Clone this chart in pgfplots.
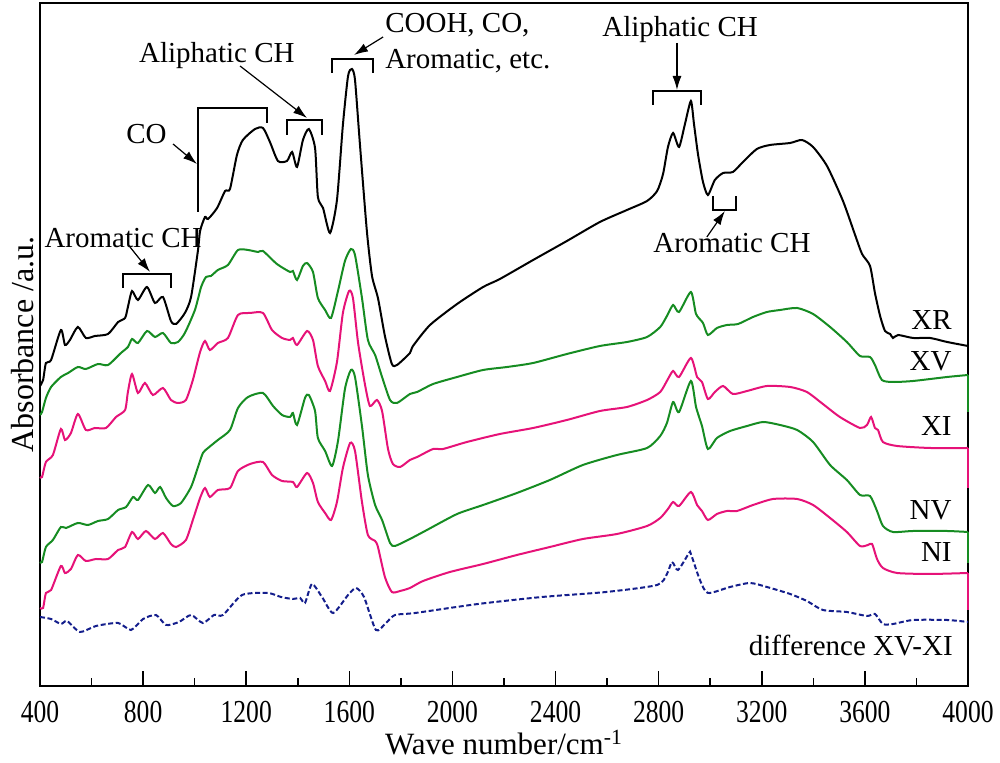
\documentclass[border=0pt]{standalone}
\usepackage{pgfplots}
\pgfplotsset{compat=1.18}
\usetikzlibrary{calc,arrows.meta}
\usepackage{fontspec}
\setmainfont{Liberation Serif}
\newfontfamily\tickfamily{Liberation Serif}[FakeStretch=0.8]
\definecolor{cgreen}{RGB}{22,140,34}
\definecolor{cpink}{RGB}{230,18,120}
\definecolor{cnavy}{RGB}{20,30,140}
\newcommand{\annfont}{\fontsize{14.5}{17}\selectfont}
\begin{document}
\begin{tikzpicture}
\begin{axis}[
  scale only axis, width=464pt, height=341.5pt,
  xmin=400, xmax=4000, ymin=0, ymax=683,
  axis line style={line width=1pt},
  xtick={400,800,...,4000}, minor x tick num=1,
  ytick=\empty,
  xtick pos=bottom, tick align=inside,
  major tick length=7.5pt, minor tick length=4pt,
  every tick/.style={black, line width=0.8pt},
  /pgf/number format/assume math mode=true,
  /pgf/number format/1000 sep={},
  xticklabel style={font=\tickfamily\fontsize{16}{19}\selectfont, yshift=-4pt},
  xlabel={Wave number/cm\textsuperscript{-1}},
  xlabel style={at={(axis description cs:0.5,0)}, anchor=base, yshift=-34.5pt, font=\fontsize{15.5}{18}\selectfont},
  ylabel={Absorbance /a.u.},
  ylabel style={at={(axis description cs:-0.0075,0.5)}, anchor=base, font=\fontsize{16}{19}\selectfont},
  clip=false,
  every axis plot/.append style={line width=1pt, no marks, smooth, tension=0.4},
]
\coordinate (bl) at (rel axis cs:0,0);
\coordinate (tr) at (rel axis cs:1,1);

% XR
\addplot[black] coordinates {
(400,300)(412,306)(423,323)(443,326)(481,356)(497,341)(516,346)(547,359)(578,348)(613,350)(664,352)
(703,364)(730,368)(741,379)(757,395)(780,386)(815,399)(846,383)(877,389)(908,365)(928,362)(962,373)
(986,389)(1013,436)(1021,455)(1040,469)(1052,467)(1087,478)(1118,495)(1137,497)(1164,531)(1187,546)
(1234,557)(1265,558)(1292,544)(1323,525)(1358,525)(1378,534)(1397,519)(1420,546)(1443,557)(1467,538)
(1478,489)(1498,478)(1525,453)(1552,486)(1575,561)(1595,610)(1610,617)(1622,606)(1641,542)(1668,455)
(1688,410)(1711,388)(1738,350)(1765,322)(1785,321)(1835,333)(1847,340)(1913,361)(2018,382)(2119,399)
(2184,407)(2313,426)(2444,445)(2572,464)(2677,476)(2755,485)(2794,495)(2817,512)(2836,539)(2856,553)
(2879,539)(2902,562)(2925,585)(2937,562)(2953,531)(2972,504)(2991,491)(3018,506)(3050,513)(3088,514)
(3127,524)(3181,537)(3232,541)(3310,543)(3356,546)(3399,539)(3453,520)(3515,485)(3562,451)(3589,432)
(3620,420)(3639,393)(3659,370)(3678,355)(3698,352)(3709,348)(3729,351)(3787,348)(3853,348)(3919,344)
(4000,340)
};
\addplot[black, sharp plot] coordinates {(4000,340)(4000,309)};
% XV
\addplot[cgreen] coordinates {
(400,271)(408,274)(423,288)(443,299)(481,309)(509,313)(547,319)(578,317)(625,322)(664,321)(714,333)
(741,339)(757,347)(780,343)(815,355)(846,349)(877,353)(908,343)(935,344)(962,353)(1001,376)(1025,399)
(1044,409)(1063,410)(1090,416)(1129,421)(1168,436)(1207,436)(1246,434)(1265,435)(1319,422)(1370,414)
(1381,415)(1397,406)(1420,420)(1436,423)(1459,414)(1478,388)(1506,376)(1529,368)(1556,395)(1583,425)
(1606,437)(1622,431)(1649,388)(1672,346)(1700,331)(1727,309)(1758,286)(1785,283)(1835,292)(1863,294)
(1925,302)(2018,309)(2119,316)(2212,319)(2313,323)(2444,332)(2572,340)(2677,344)(2755,349)(2806,359)
(2832,370)(2856,381)(2879,374)(2925,394)(2945,372)(2972,363)(2991,351)(3026,358)(3065,361)(3108,362)
(3166,369)(3220,374)(3271,376)(3337,378)(3399,372)(3465,359)(3530,344)(3581,330)(3620,329)(3639,321)
(3666,306)(3709,304)(3787,305)(3919,309)(4000,311)
};
\addplot[cgreen, sharp plot] coordinates {(4000,311)(4000,274)};
% XI
\addplot[cpink] coordinates {
(400,209)(408,209)(423,224)(450,231)(481,257)(497,246)(520,253)(547,272)(578,256)(613,258)(656,258)
(695,269)(730,276)(741,294)(757,312)(780,293)(807,303)(838,291)(877,298)(908,286)(935,283)(966,286)
(993,306)(1021,334)(1040,345)(1059,336)(1090,343)(1129,348)(1168,371)(1215,373)(1265,373)(1300,356)
(1339,348)(1370,346)(1381,348)(1397,341)(1436,355)(1459,346)(1478,320)(1506,305)(1525,295)(1552,324)
(1575,373)(1599,395)(1614,388)(1634,343)(1661,301)(1680,280)(1707,286)(1727,275)(1750,237)(1769,222)
(1797,219)(1835,226)(1863,229)(1925,237)(1963,237)(2056,244)(2184,252)(2313,258)(2444,266)(2572,275)
(2677,279)(2755,286)(2806,294)(2836,307)(2856,315)(2879,309)(2925,328)(2949,309)(2968,304)(2991,287)
(3018,294)(3050,300)(3088,292)(3143,295)(3220,300)(3310,299)(3375,294)(3437,282)(3503,269)(3581,258)
(3608,261)(3624,269)(3639,258)(3651,256)(3670,244)(3725,240)(3853,238)(4000,238)
};
\addplot[cpink, sharp plot] coordinates {(4000,238)(4000,198)};
% NV
\addplot[cgreen] coordinates {
(400,124)(408,124)(423,139)(450,146)(481,159)(501,158)(547,163)(586,161)(625,165)(664,167)(703,176)
(734,179)(761,189)(780,186)(819,201)(846,193)(866,199)(889,188)(916,180)(947,183)(986,199)(1013,219)
(1032,233)(1052,238)(1090,246)(1137,256)(1168,278)(1207,289)(1265,293)(1304,280)(1339,271)(1370,269)
(1381,273)(1397,261)(1428,288)(1443,291)(1467,275)(1478,248)(1506,235)(1533,220)(1556,245)(1583,297)
(1606,316)(1622,309)(1649,260)(1672,211)(1700,181)(1727,166)(1758,143)(1777,140)(1835,147)(1901,156)
(2018,172)(2119,181)(2250,193)(2378,206)(2506,221)(2638,231)(2755,238)(2806,250)(2832,263)(2856,284)
(2879,274)(2925,305)(2945,279)(2968,260)(2991,237)(3026,248)(3077,255)(3143,260)(3205,264)(3271,261)
(3337,256)(3399,244)(3465,221)(3530,206)(3581,191)(3620,190)(3647,175)(3670,160)(3709,154)(3787,155)
(3919,155)(4000,154)
};
\addplot[cgreen, sharp plot] coordinates {(4000,154)(4000,123)};
% NI
\addplot[cpink] coordinates {
(400,78)(412,78)(423,93)(443,96)(481,120)(497,113)(520,117)(547,131)(578,125)(617,127)(664,127)
(703,136)(730,139)(757,154)(780,147)(811,155)(846,147)(877,153)(908,142)(928,139)(966,146)(993,166)
(1021,188)(1040,198)(1059,189)(1090,196)(1137,198)(1168,215)(1215,222)(1265,224)(1300,211)(1339,205)
(1381,204)(1397,199)(1436,213)(1459,203)(1478,184)(1506,173)(1529,166)(1552,184)(1575,218)(1603,243)
(1622,235)(1649,184)(1672,151)(1700,145)(1711,139)(1738,109)(1765,94)(1797,95)(1835,98)(1886,105)
(1990,114)(2119,122)(2250,131)(2378,139)(2506,147)(2638,152)(2755,160)(2806,168)(2836,177)(2856,184)
(2879,180)(2925,194)(2949,181)(2968,175)(2991,166)(3026,172)(3065,175)(3104,175)(3166,181)(3244,187)
(3337,187)(3399,181)(3465,168)(3530,154)(3581,140)(3612,141)(3628,142)(3647,127)(3670,118)(3725,113)
(3853,112)(4000,113)
};
\addplot[cpink, sharp plot] coordinates {(4000,113)(4000,76)};
% difference XV-XI
\addplot[cnavy, dash pattern=on 2.5pt off 1.3pt] coordinates {
(400,69)(443,67)(481,62)(505,65)(555,54)(617,60)(703,63)(753,56)(800,67)(850,71)(889,61)(939,64)
(986,71)(1032,63)(1075,71)(1110,71)(1184,91)(1284,93)(1335,89)(1381,87)(1409,88)(1428,83)(1455,102)
(1494,89)(1537,73)(1595,91)(1626,98)(1657,89)(1703,56)(1742,63)(1777,71)(1855,73)(2099,82)(2347,89)
(2596,94)(2794,101)(2832,112)(2852,124)(2875,116)(2918,133)(2925,132)(2960,106)(2991,93)(3077,99)
(3154,103)(3220,99)(3310,92)(3375,85)(3437,76)(3530,74)(3608,70)(3639,72)(3670,62)(3709,62)(3787,66)
(3919,66)(4000,64)
};

% annotations
\begin{scope}[line width=0.9pt]
\draw (axis cs:722,398) -- (axis cs:722,412) -- (axis cs:908,412) -- (axis cs:908,398);
\draw (axis cs:1013,474) -- (axis cs:1013,578) -- (axis cs:1281,578) -- (axis cs:1281,563);
\draw (axis cs:1358,551) -- (axis cs:1358,566) -- (axis cs:1494,566) -- (axis cs:1494,551);
\draw (axis cs:1533,613) -- (axis cs:1533,627) -- (axis cs:1692,627) -- (axis cs:1692,613);
\draw (axis cs:2778,581) -- (axis cs:2778,595) -- (axis cs:2964,595) -- (axis cs:2964,581);
\draw (axis cs:3011,490) -- (axis cs:3011,476) -- (axis cs:3100,476) -- (axis cs:3100,490);
\end{scope}
\begin{scope}[line width=0.6pt, -{Latex[length=7pt,width=4.5pt]}]
\draw (axis cs:749,439) -- (axis cs:827,414);
\draw (axis cs:916,542) -- (axis cs:1009,522);
\draw (axis cs:1176,620) -- (axis cs:1436,568);
\draw (axis cs:1731,649) -- (axis cs:1618,631);
\draw (axis cs:2871,643) -- (axis cs:2871,596);
\draw (axis cs:2987,449) -- (axis cs:3057,475);
\end{scope}
\begin{scope}[every node/.style={inner sep=0pt, font=\annfont}]
\node[anchor=base west] at (axis cs:416,438) {Aromatic CH};
\node[anchor=base east] at (axis cs:893,542) {CO};
\node[anchor=base east] at (axis cs:1389,623) {Aliphatic CH};
\node[anchor=base west] at (axis cs:1738,653) {COOH, CO,};
\node[anchor=base west] at (axis cs:1738,617) {Aromatic, etc.};
\node[anchor=base west] at (axis cs:2580,649) {Aliphatic CH};
\node[anchor=base west] at (axis cs:2778,433) {Aromatic CH};
\node[anchor=base east] at (axis cs:3938,356) {XR};
\node[anchor=base east] at (axis cs:3938,315) {XV};
\node[anchor=base east] at (axis cs:3938,250) {XI};
\node[anchor=base east] at (axis cs:3938,166) {NV};
\node[anchor=base east] at (axis cs:3938,124) {NI};
\node[anchor=base east] at (axis cs:3942,30) {difference XV-XI};
\end{scope}
\end{axis}
\pgfresetboundingbox
\path ($(bl)+(-20pt,-38.5pt)$) rectangle ($(tr)+(16pt,1.5pt)$);
\end{tikzpicture}
\end{document}
